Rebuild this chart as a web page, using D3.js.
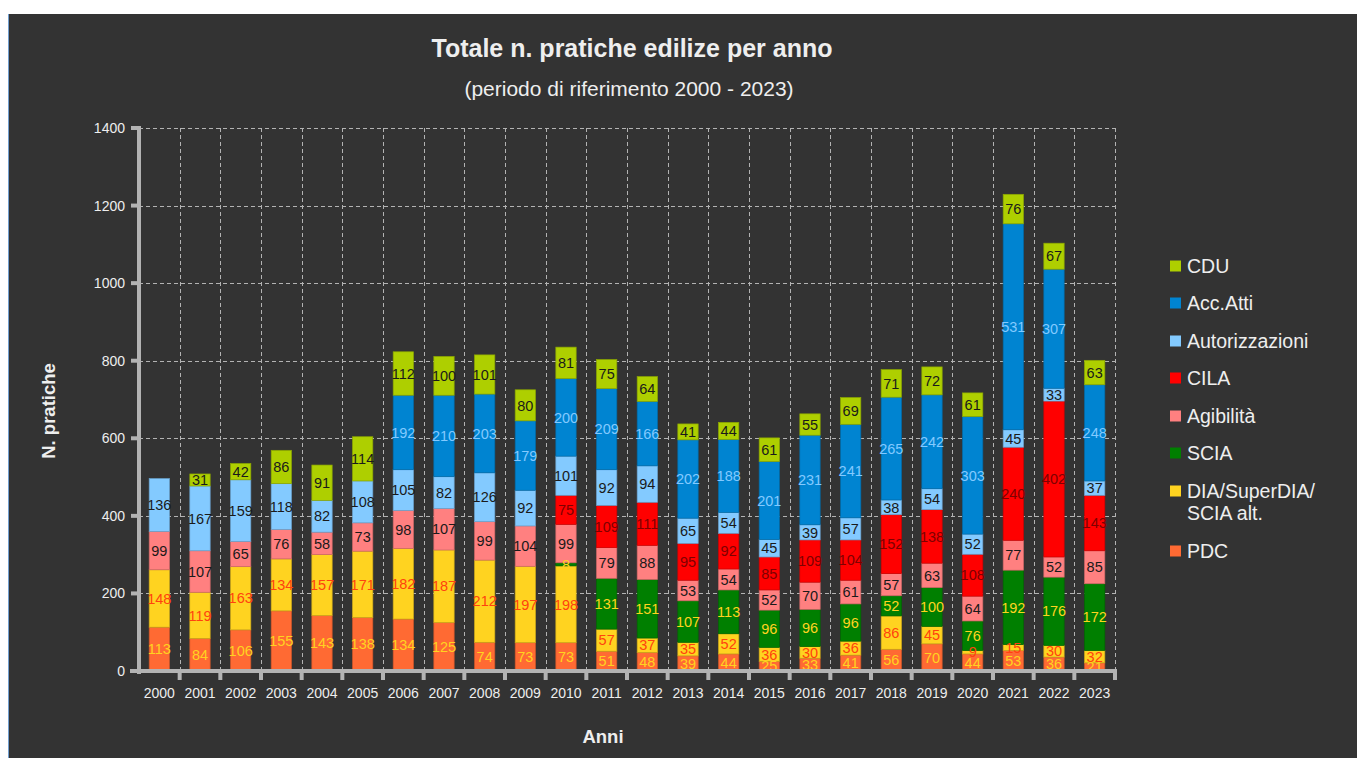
<!DOCTYPE html>
<html><head><meta charset="utf-8">
<script src="https://cdn.jsdelivr.net/npm/d3@7/dist/d3.min.js"></script>
<style>
html,body{margin:0;padding:0;background:#fff;}
svg{display:block;font-family:"Liberation Sans",Arial,sans-serif;}
</style></head>
<body>
<svg id="c" width="1357" height="758"></svg>
<script>
const years = ["2000","2001","2002","2003","2004","2005","2006","2007","2008","2009","2010","2011","2012","2013","2014","2015","2016","2017","2018","2019","2020","2021","2022","2023"];
const seriesNames = ["PDC","DIA/SuperDIA/SCIA alt.","SCIA","Agibilità","CILA","Autorizzazioni","Acc.Atti","CDU"];
const PDC   = [113,84,106,155,143,138,134,125,74,73,73,51,48,39,44,25,33,41,56,70,44,53,36,21];
const DIA   = [148,119,163,134,157,171,182,187,212,197,198,57,37,35,52,36,30,36,86,45,9,15,30,32];
const SCIA  = [0,0,0,0,0,0,0,0,0,0,8,131,151,107,113,96,96,96,52,100,76,192,176,172];
const AGIB  = [99,107,65,76,58,73,98,107,99,104,99,79,88,53,54,52,70,61,57,63,64,77,52,85];
const CILA  = [0,0,0,0,0,0,0,0,0,0,75,109,111,95,92,85,109,104,152,138,108,240,402,143];
const AUT   = [136,167,159,118,82,108,105,82,126,92,101,92,94,65,54,45,39,57,38,54,52,45,33,37];
const ACC   = [0,0,0,0,0,0,192,210,203,179,200,209,166,202,188,201,231,241,265,242,303,531,307,248];
const CDU   = [0,31,42,86,91,114,112,100,101,80,81,75,64,41,44,61,55,69,71,72,61,76,67,63];
const yTicks = [0,200,400,600,800,1000,1200,1400];

const seriesData = [PDC,DIA,SCIA,AGIB,CILA,AUT,ACC,CDU];
const fills = ["#ff6a33","#ffd320","#007f00","#ff8080","#ff0000","#83caff","#0084d1","#aecf00"];
const labelFills = ["#ffd320","#ff420e","#ffd320","#1a1a1a","#7e0000","#1a1a1a","#83caff","#1a1a1a"];

const svg = d3.select("#c");
svg.append("rect").attr("x",8).attr("y",14).attr("width",1349).attr("height",744).attr("fill","#333333");
svg.append("line").attr("x1",8.5).attr("x2",8.5).attr("y1",14).attr("y2",758).attr("stroke","#729fcf").attr("stroke-width",1);

const x = d3.scaleBand().domain(years).range([139,1115]).paddingInner(0.5).paddingOuter(0.25);
const xb = d3.scaleBand().domain(years).range([139,1115]);
const y = d3.scaleLinear().domain([0,1400]).range([671,128]);

const g = svg.append("g");
g.selectAll(".hg").data(yTicks.filter(d=>d>0)).enter().append("line")
  .attr("x1",139).attr("x2",1115).attr("y1",d=>Math.round(y(d))+0.5).attr("y2",d=>Math.round(y(d))+0.5)
  .attr("stroke","#b3b3b3").attr("stroke-width",1).attr("stroke-dasharray","4,3");
g.selectAll(".vg").data(years.slice(1).concat(["end"])).enter().append("line")
  .attr("x1",d=>Math.round(d==="end"?1115:xb(d))+0.5).attr("x2",d=>Math.round(d==="end"?1115:xb(d))+0.5)
  .attr("y1",128).attr("y2",671)
  .attr("stroke","#b3b3b3").attr("stroke-width",1).attr("stroke-dasharray","4,3");

const table = years.map((yr,i)=>{const o={year:yr}; seriesNames.forEach((s,k)=>o[s]=seriesData[k][i]); return o;});
const stack = d3.stack().keys(seriesNames)(table);
const bars = svg.append("g");
stack.forEach((layer,k)=>{
  bars.selectAll(null).data(layer.filter(d=>d[1]-d[0]>0)).enter().append("rect")
    .attr("x",d=>x(d.data.year)).attr("width",x.bandwidth())
    .attr("y",d=>y(d[1])).attr("height",d=>y(d[0])-y(d[1]))
    .attr("fill",fills[k]).attr("stroke",d3.color(fills[k]).darker(0.6)).attr("stroke-width",0.7);
});
stack.forEach((layer,k)=>{
  bars.selectAll(null).data(layer.filter(d=>d[1]-d[0]>0)).enter().append("text")
    .attr("x",d=>x(d.data.year)+x.bandwidth()/2)
    .attr("y",d=>(y(d[0])+y(d[1]))/2)
    .attr("dy","0.36em").attr("text-anchor","middle")
    .attr("font-size",14.5).attr("fill",labelFills[k])
    .text(d=>d[1]-d[0]);
});

const axG = svg.append("g");
axG.append("line").attr("x1",139).attr("x2",139).attr("y1",126).attr("y2",674).attr("stroke","#b3b3b3").attr("stroke-width",4);
axG.append("line").attr("x1",130).attr("x2",1117).attr("y1",671).attr("y2",671).attr("stroke","#b3b3b3").attr("stroke-width",4);
axG.selectAll(".yt").data(yTicks).enter().append("line")
  .attr("x1",131).attr("x2",139).attr("y1",d=>y(d)).attr("y2",d=>y(d)).attr("stroke","#b3b3b3").attr("stroke-width",4);
axG.selectAll(".ytl").data(yTicks).enter().append("text")
  .attr("x",125).attr("y",d=>y(d)).attr("dy","0.36em").attr("text-anchor","end")
  .attr("font-size",14).attr("fill","#eeeeee").text(d=>d);
axG.selectAll(".xt").data(years.slice(1).concat(["end"])).enter().append("line")
  .attr("x1",d=>d==="end"?1115:xb(d)).attr("x2",d=>d==="end"?1115:xb(d))
  .attr("y1",671).attr("y2",680).attr("stroke","#b3b3b3").attr("stroke-width",4);
axG.selectAll(".xtl").data(years).enter().append("text")
  .attr("x",d=>x(d)+x.bandwidth()/2).attr("y",693).attr("dy","0.36em").attr("text-anchor","middle")
  .attr("font-size",14).attr("fill","#eeeeee").text(d=>d);

svg.append("text").attr("x",632).attr("y",57).attr("text-anchor","middle").attr("font-size",25).attr("font-weight","bold").attr("fill","#eeeeee").text("Totale n. pratiche edilize per anno");
svg.append("text").attr("x",629).attr("y",96).attr("text-anchor","middle").attr("font-size",21).attr("fill","#eeeeee").text("(periodo di riferimento 2000 - 2023)");
svg.append("text").attr("transform","translate(55,411) rotate(-90)").attr("text-anchor","middle").attr("font-size",18.5).attr("font-weight","bold").attr("fill","#eeeeee").text("N. pratiche");
svg.append("text").attr("x",603).attr("y",743).attr("text-anchor","middle").attr("font-size",18.5).attr("font-weight","bold").attr("fill","#eeeeee").text("Anni");

const legendOrder = [7,6,5,4,3,2,1,0];
const legendY = [266,303,341,378,416,453,491,551];
const lg = svg.append("g");
legendOrder.forEach((k,i)=>{
  lg.append("rect").attr("x",1170).attr("y",legendY[i]-5.5).attr("width",11).attr("height",11).attr("fill",fills[k]);
  const t = lg.append("text").attr("x",1187).attr("y",legendY[i]).attr("dy","0.36em").attr("font-size",19.5).attr("fill","#eeeeee");
  if(k===1){
    t.append("tspan").attr("x",1187).text("DIA/SuperDIA/");
    t.append("tspan").attr("x",1187).attr("dy","1.15em").text("SCIA alt.");
  } else t.text(seriesNames[k]);
});
</script>
</body></html>
